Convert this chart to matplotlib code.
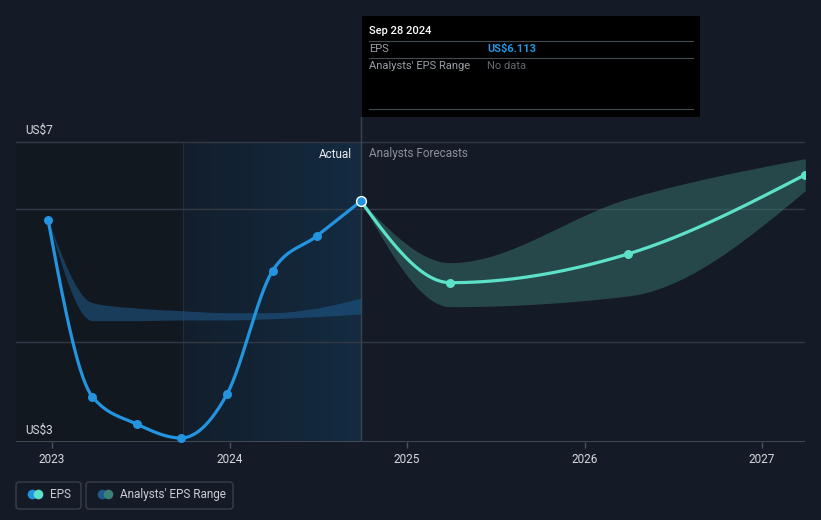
import numpy as np
import pandas as pd
import matplotlib
matplotlib.use("Agg")
import matplotlib.pyplot as plt
from matplotlib.patches import Rectangle, FancyBboxPatch
from matplotlib.colors import LinearSegmentedColormap

plt.rcParams['font.family'] = ['Roboto', 'DejaVu Sans']

# reported EPS (US$)
past_dates = ["2022-12-24", "2023-03-25", "2023-06-24", "2023-09-23",
              "2023-12-27", "2024-03-30", "2024-06-29", "2024-09-28"]
past_eps = [5.83, 3.18, 2.77, 2.56, 3.22, 5.07, 5.59, 6.113]
past_low = [5.83, 4.32, 4.32, 4.33, 4.33, 4.35, 4.38, 4.42]
past_high = [5.83, 4.59, 4.51, 4.47, 4.44, 4.44, 4.51, 4.66]

# analysts forecasts
fc_dates = ["2024-09-28", "2025-03-31", "2026-03-31", "2027-03-31"]
fc_eps = [6.113, 4.89, 5.32, 6.51]
fc_low = [6.113, 4.53, 4.69, 6.27]
fc_high = [6.113, 5.19, 6.15, 6.75]

year_ticks = [2023, 2024, 2025, 2026, 2027]
grid_values = [7, 6, 4]

BG = "#151b26"
BLUE = "#2394df"
TEAL = "#5de1c8"


def to_year(s):
    t = pd.Timestamp(s)
    days = 366 if t.is_leap_year else 365
    return t.year + (t.dayofyear - 1) / days


def monotone(xs, ys, n=40):
    # monotone cubic curve (same idea as d3 curveMonotoneX)
    xs = np.asarray(xs, float)
    ys = np.asarray(ys, float)
    h = np.diff(xs)
    s = np.diff(ys) / h
    m = np.zeros(len(xs))
    for i in range(1, len(xs) - 1):
        p = (s[i - 1] * h[i] + s[i] * h[i - 1]) / (h[i - 1] + h[i])
        m[i] = (np.sign(s[i - 1]) + np.sign(s[i])) * min(abs(s[i - 1]), abs(s[i]), 0.5 * abs(p))
    m[0] = (3 * s[0] - m[1]) / 2 if len(xs) > 2 else s[0]
    m[-1] = (3 * s[-1] - m[-2]) / 2 if len(xs) > 2 else s[-1]
    out_x, out_y = [], []
    for i in range(len(xs) - 1):
        t = np.linspace(0, 1, n)
        h00 = 2 * t**3 - 3 * t**2 + 1
        h10 = t**3 - 2 * t**2 + t
        h01 = -2 * t**3 + 3 * t**2
        h11 = t**3 - t**2
        yy = h00 * ys[i] + h10 * h[i] * m[i] + h01 * ys[i + 1] + h11 * h[i] * m[i + 1]
        out_x.extend(xs[i] + t * h[i])
        out_y.extend(yy)
    return np.array(out_x), np.array(out_y)


px = [to_year(d) for d in past_dates]
fx = [to_year(d) for d in fc_dates]
now = to_year("2024-09-28")
year_ago = to_year("2023-09-28")

fig = plt.figure(figsize=(8.21, 5.20), dpi=100)
fig.patch.set_facecolor(BG)

ppd = 300 / 4.5  # pixels per dollar
ax = fig.add_axes([16 / 821, 78 / 520, 789 / 821, 442 / 520])
ax.set_facecolor(BG)
x0 = 2023 - 36 / 177.5
x1 = 2023 + 753 / 177.5
y0 = 2.5
y1 = 2.5 + 442 / ppd

# shaded history regions
ax.add_patch(Rectangle((x0, y0), year_ago - x0, 7 - y0, facecolor="#121820", edgecolor="none", zorder=0))
cmap = LinearSegmentedColormap.from_list("hl", ["#121e2c", "#142b41"])
ax.imshow(np.linspace(0, 1, 256).reshape(1, -1), extent=[year_ago, now, y0, 7],
          aspect="auto", cmap=cmap, zorder=0.5)
ax.plot([year_ago, year_ago], [y0, 7], color="#1c2e42", lw=0.8, zorder=0.6)

for g in grid_values:
    ax.axhline(g, color="#343a45", lw=1, zorder=1)
ax.axhline(y0, color="#4d535c", lw=1.2, zorder=1)

# ranges
bx, bl = monotone(px, past_low)
_, bh = monotone(px, past_high)
ax.fill_between(bx, bl, bh, color="#1f5a8c", alpha=0.55, lw=0, zorder=2)
fxx, fl = monotone(fx, fc_low)
_, fh = monotone(fx, fc_high)
ax.fill_between(fxx, fl, fh, color="#3c807a", alpha=0.45, lw=0, zorder=2)

# EPS lines
lx, ly = monotone(px, past_eps)
ax.plot(lx, ly, color=BLUE, lw=2.3, zorder=3, solid_capstyle="round")
ax.scatter(px[:-1], past_eps[:-1], s=42, color=BLUE, zorder=4, lw=0)
lx, ly = monotone(fx, fc_eps)
ax.plot(lx, ly, color=TEAL, lw=2.3, zorder=3, solid_capstyle="round")
ax.scatter(fx[1:], fc_eps[1:], s=42, color=TEAL, zorder=4, lw=0)
ax.scatter([now], [past_eps[-1]], s=50, color=BLUE, edgecolor="white", lw=1.0, zorder=5)

ax.plot([now, now], [y0, 2.5 + (442 - 117) / ppd], color="#3a4350", lw=1, zorder=1.5)

ax.set_xlim(x0, x1)
ax.set_ylim(y0, y1)
for sp in ax.spines.values():
    sp.set_visible(False)
ax.set_yticks([])
ax.set_xticks(year_ticks)
ax.set_xticklabels([str(y) for y in year_ticks])
ax.tick_params(axis="x", colors="#4d535c", length=4, width=1, labelcolor="#d6d9de",
               labelsize=8.5, pad=4)

# overlay in pixel coordinates
ov = fig.add_axes([0, 0, 1, 1])
ov.set_xlim(0, 821)
ov.set_ylim(520, 0)
ov.axis("off")
ov.patch.set_alpha(0)

ov.text(25, 130, "US$7", color="#d6d9de", fontsize=8.5, va="center", ha="left")
ov.text(25, 430, "US$3", color="#d6d9de", fontsize=8.5, va="center", ha="left")
ov.text(352, 154, "Actual", color="#e8eaed", fontsize=8.5, va="center", ha="right")
ov.text(369, 154, "Analysts Forecasts", color="#8a8f98", fontsize=8.5, va="center", ha="left")

# tooltip
ov.add_patch(Rectangle((362, 16), 338, 101, facecolor="black", edgecolor="none"))
ov.text(369, 31, "Sep 28 2024", color="white", fontsize=8, fontweight="medium", va="center")
ov.plot([369, 693], [41, 41], color="#444a52", lw=0.8)
ov.text(369, 49, "EPS", color="#9aa0a8", fontsize=8, va="center")
ov.text(487, 49, "US$6.113", color=BLUE, fontsize=8, fontweight="bold", va="center")
ov.plot([369, 693], [58, 58], color="#444a52", lw=0.8)
ov.text(369, 66, "Analysts' EPS Range", color="#9aa0a8", fontsize=8, va="center")
ov.text(487, 66, "No data", color="#62676e", fontsize=8, va="center")
ov.plot([369, 693], [109, 109], color="#444a52", lw=0.8)

# legend
for (lx0, w) in [(16, 65), (86, 147)]:
    ov.add_patch(FancyBboxPatch((lx0, 482), w, 27, boxstyle="round,pad=0,rounding_size=3",
                                facecolor="none", edgecolor="#3a3f4a", lw=1))
ov.scatter([32], [494], s=48, color=BLUE, lw=0)
ov.scatter([38], [494], s=48, color=TEAL, lw=0)
ov.text(50, 494.5, "EPS", color="#c8ccd2", fontsize=8.5, va="center")
ov.scatter([102], [494], s=48, color="#1f5a8c", lw=0)
ov.scatter([108], [494], s=48, color="#3c807a", lw=0)
ov.text(120, 494.5, "Analysts' EPS Range", color="#c8ccd2", fontsize=8.5, va="center")

fig.savefig("out.png", dpi=100, facecolor=BG)
